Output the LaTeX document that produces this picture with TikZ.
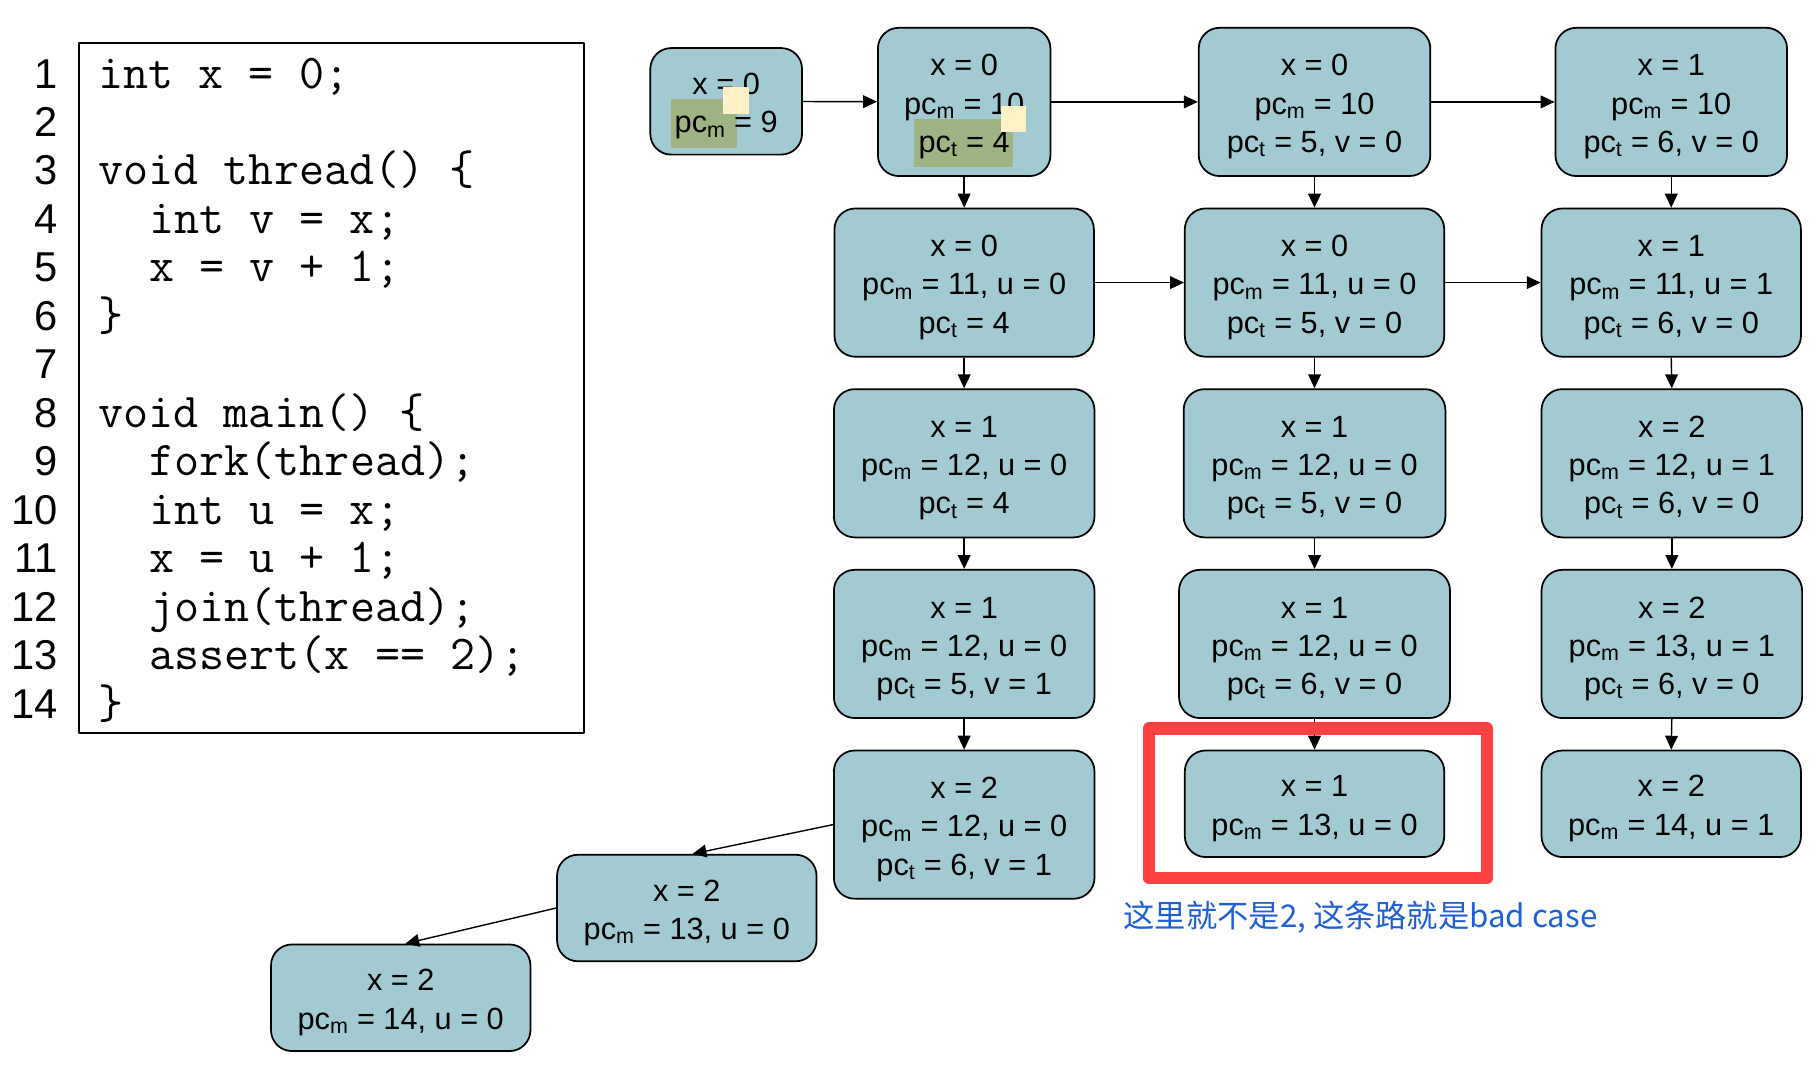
\documentclass[tikz,border=0pt]{standalone}
\usepackage{fontspec}
\setmainfont{Liberation Sans}
\newfontfamily\cjk{Noto Sans CJK SC}
\usetikzlibrary{arrows.meta}
\definecolor{stateblue}{RGB}{161,202,210}
\definecolor{hlgreen}{RGB}{158,180,131}
\definecolor{hlyellow}{RGB}{255,241,198}
\definecolor{badred}{RGB}{255,64,64}
\definecolor{noteblue}{RGB}{30,95,215}
\newcommand{\pcm}{pc\textsubscript{m}}
\newcommand{\pct}{pc\textsubscript{t}}
\newcommand{\ind}{\hspace*{44pt}}
\newcommand{\vals}[1]{\raisebox{0pt}[\dimexpr\height+8pt\relax][\depth]{\begin{tabular}{@{}c@{}}#1\end{tabular}}}
\begin{document}
\begin{tikzpicture}[x=1pt, y=-1pt, >={Triangle[length=12pt,width=11pt]}, line join=round,
  state/.style={draw, fill=stateblue, line width=1.5pt, rounded corners=18pt,
    inner sep=0pt, minimum height=128pt, font=\fontsize{26.5pt}{33pt}\selectfont},
  short/.style={minimum height=92pt},
  flow/.style={->, line width=1.2pt},
  lnum/.style={anchor=base east, inner sep=0pt, font=\fontsize{36pt}{40pt}\selectfont},
  codeline/.style={anchor=base west, inner sep=0pt, font=\ttfamily\fontsize{42pt}{44pt}\selectfont}]
  \useasboundingbox (0,0) rectangle (1568,924);
  % source code
  \node[draw, line width=1.5pt, minimum width=436pt, minimum height=596pt] (code) at (286,335) {};
  \foreach \n/\ln in {1/{int x = 0;}, 2/{}, 3/{void thread() \{}, 4/{\ind int v = x;},
      5/{\ind x = v + 1;}, 6/{\}}, 7/{}, 8/{void main() \{}, 9/{\ind fork(thread);},
      10/{\ind int u = x;}, 11/{\ind x = u + 1;}, 12/{\ind join(thread);},
      13/{\ind assert(x == 2);}, 14/{\}}}{
    \node[lnum] (num\n) at (50,{76+(\n-1)*41.85}) {\n};
    \node[codeline] (line\n) at (85,{76+(\n-1)*41.85}) {\ln};
  }
  % states
  \node[state, minimum width=131pt, minimum height=92pt,
    path picture={\fill[hlgreen, sharp corners] ([xshift=18pt,yshift=-44pt]path picture bounding box.north west)
      rectangle ([xshift=75pt,yshift=-86pt]path picture bounding box.north west);}]
    (n0) at (627,87.5) {\vals{x = 0\\\pcm{} = 9}};
  \node[state, minimum width=149pt,
    path picture={\fill[hlgreen, sharp corners] ([xshift=31pt,yshift=-79pt]path picture bounding box.north west)
      rectangle ([xshift=117pt,yshift=-120pt]path picture bounding box.north west);}]
    (a0) at (832.5,88) {\vals{x = 0\\\pcm{} = 10\\\pct{} = 4}};
  \node[state, minimum width=200pt] (b0) at (1135,88) {\vals{x = 0\\\pcm{} = 10\\\pct{} = 5, v = 0}};
  \node[state, minimum width=200pt] (c0) at (1443,88) {\vals{x = 1\\\pcm{} = 10\\\pct{} = 6, v = 0}};
  \node[state, minimum width=224pt] (a1) at (832.5,244) {\vals{x = 0\\\pcm{} = 11, u = 0\\\pct{} = 4}};
  \node[state, minimum width=224pt] (b1) at (1135,244) {\vals{x = 0\\\pcm{} = 11, u = 0\\\pct{} = 5, v = 0}};
  \node[state, minimum width=224pt] (c1) at (1443,244) {\vals{x = 1\\\pcm{} = 11, u = 1\\\pct{} = 6, v = 0}};
  \node[state, minimum width=225pt] (a2) at (832.5,400) {\vals{x = 1\\\pcm{} = 12, u = 0\\\pct{} = 4}};
  \node[state, minimum width=226pt] (b2) at (1135,400) {\vals{x = 1\\\pcm{} = 12, u = 0\\\pct{} = 5, v = 0}};
  \node[state, minimum width=225pt] (c2) at (1443.5,400) {\vals{x = 2\\\pcm{} = 12, u = 1\\\pct{} = 6, v = 0}};
  \node[state, minimum width=225pt] (a3) at (832.5,556) {\vals{x = 1\\\pcm{} = 12, u = 0\\\pct{} = 5, v = 1}};
  \node[state, minimum width=234pt] (b3) at (1135,556) {\vals{x = 1\\\pcm{} = 12, u = 0\\\pct{} = 6, v = 0}};
  \node[state, minimum width=225pt] (c3) at (1443.5,556) {\vals{x = 2\\\pcm{} = 13, u = 1\\\pct{} = 6, v = 0}};
  \node[state, minimum width=225pt] (a4) at (832.5,712) {\vals{x = 2\\\pcm{} = 12, u = 0\\\pct{} = 6, v = 1}};
  \node[state, short, minimum width=224pt] (b4) at (1135,694) {\vals{x = 1\\\pcm{} = 13, u = 0}};
  \node[state, short, minimum width=224pt] (c4) at (1443,694) {\vals{x = 2\\\pcm{} = 14, u = 1}};
  \node[state, short, minimum width=224pt] (d1) at (593,784) {\vals{x = 2\\\pcm{} = 13, u = 0}};
  \node[state, short, minimum width=224pt] (d2) at (346,861.5) {\vals{x = 2\\\pcm{} = 14, u = 0}};
  % marks
  \node[fill=hlyellow, inner sep=0pt, minimum size=23pt] (mark1) at (635.5,86.5) {};
  \node[fill=hlyellow, inner sep=0pt, minimum size=22pt] (mark2) at (875,102.75) {};
  % transitions
  \draw[flow] (n0) -- (a0);
  \draw[flow] (a0) -- (b0);
  \draw[flow] (b0) -- (c0);
  \draw[flow] (a1) -- (b1);
  \draw[flow] (b1) -- (c1);
  \foreach \c in {a,b,c}{
    \foreach \i in {0,...,3}{
      \pgfmathtruncatemacro\j{\i+1}
      \draw[flow] (\c\i.south) -- (\c\j.north);
    }
  }
  \draw[flow] (a4.west) -- ([xshift=5pt]d1.north);
  \draw[flow] (d1.west) -- ([xshift=4pt]d2.north);
  % bad case
  \node[draw=badred, line width=10.6pt, inner sep=0pt, minimum width=292pt, minimum height=129pt]
    (badbox) at (1138,693.5) {};
  \node[anchor=base west, inner sep=0pt, text=noteblue, font=\cjk\fontsize{27pt}{30pt}\selectfont]
    (note) at (970,801) {这里就不是2, 这条路就是bad case};
\end{tikzpicture}
\end{document}
